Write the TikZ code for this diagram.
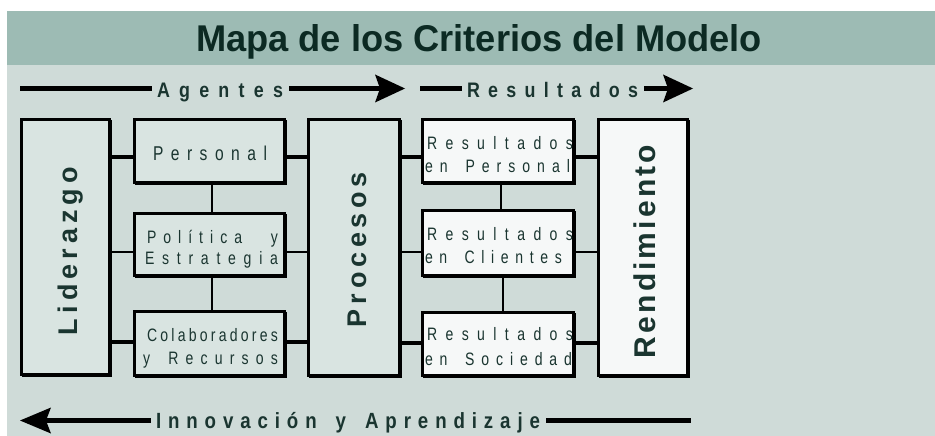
\documentclass[tikz,border=0pt]{standalone}
\usepackage{fontspec}
\setmainfont{Liberation Sans}
\newfontfamily\boxfont[FakeStretch=0.78]{Liberation Sans}
\newfontfamily\narrowfont[FakeStretch=0.85]{Liberation Sans}
\usetikzlibrary{shadows}
\definecolor{bandc}{HTML}{9DBBB4}
\definecolor{mainbg}{HTML}{CFDBD8}
\definecolor{boxgray}{HTML}{D9E4E1}
\definecolor{boxwhite}{HTML}{F6F8F8}
\definecolor{txtc}{HTML}{1A3530}
\definecolor{titlec}{HTML}{0C2A23}
\ExplSyntaxOn
\NewDocumentCommand \spr { m m }
 {
   \makebox[#1][s]{ \tl_map_inline:nn {#2} { ##1 \hfill } \unskip }
 }
\ExplSyntaxOff
\newcommand{\fsz}[1]{\fontsize{#1}{#1}\selectfont}
\tikzset{
  cbox/.style={draw=black, line width=2.5pt, inner sep=0pt,
    copy shadow={shadow xshift=1.5pt, shadow yshift=-1.5pt}},
  graybox/.style={cbox, fill=boxgray},
  whitebox/.style={cbox, fill=boxwhite},
  lab/.style={inner sep=0pt, outer sep=0pt, anchor=base west, text=txtc},
  rlab/.style={lab, rotate=90},
  cthick/.style={draw=black, line width=4pt},
  cthin/.style={draw=black, line width=2pt},
  arrline/.style={draw=black, line width=4.5pt},
}
\begin{document}
\begin{tikzpicture}[x=1pt,y=-1pt]
\useasboundingbox (0,0) rectangle (935,436);
\fill[white] (0,0) rectangle (935,436);
\fill[mainbg] (7,11) rectangle (935,436);
\fill[bandc] (7,11) rectangle (935,65);

% title
\node[lab, text=titlec] (title) at (196,52)
  {\resizebox{566pt}{27pt}{\bfseries Mapa de los Criterios del Modelo}};

% boxes
\node[graybox, minimum width=88pt, minimum height=255pt] (lid) at (65.25,246.75) {};
\node[graybox, minimum width=150pt, minimum height=63pt] (per) at (209.25,150.75) {};
\node[graybox, minimum width=150pt, minimum height=62pt] (pol) at (209.25,244.25) {};
\node[graybox, minimum width=150pt, minimum height=64pt] (col) at (209.25,343.25) {};
\node[graybox, minimum width=91pt, minimum height=256pt] (pro) at (353.75,247.25) {};
\node[whitebox, minimum width=151pt, minimum height=63pt] (rp) at (497.75,150.75) {};
\node[whitebox, minimum width=151pt, minimum height=65pt] (rc) at (497.75,242.75) {};
\node[whitebox, minimum width=151pt, minimum height=63pt] (rs) at (497.75,343.75) {};
\node[whitebox, minimum width=89pt, minimum height=256pt] (ren) at (642.75,247.25) {};

% connectors
\draw[cthick] ([yshift=-6.25pt]per.west -| lid.east) -- ([yshift=-6.25pt]per.west);
\draw[cthick] ([yshift=-6.25pt]per.east) -- ([yshift=-6.25pt]per.east -| pro.west);
\draw[cthin] ([yshift=-7.75pt]pol.west -| lid.east) -- ([yshift=-7.75pt]pol.west);
\draw[cthin] ([yshift=-7.75pt]pol.east) -- ([yshift=-7.75pt]pol.east -| pro.west);
\draw[cthick] ([yshift=1.25pt]col.west -| lid.east) -- ([yshift=1.25pt]col.west);
\draw[cthick] ([yshift=1.25pt]col.east) -- ([yshift=1.25pt]col.east -| pro.west);
\draw[cthin] ([xshift=3pt]per.south) -- ([xshift=3pt]pol.north);
\draw[cthin] ([xshift=3pt]pol.south) -- ([xshift=3pt]col.north);
\draw[cthick] ([yshift=-6.25pt]rp.west -| pro.east) -- ([yshift=-6.25pt]rp.west);
\draw[cthick] ([yshift=-6.25pt]rp.east) -- ([yshift=-6.25pt]rp.east -| ren.west);
\draw[cthin] ([yshift=-9.25pt]rc.west -| pro.east) -- ([yshift=-9.25pt]rc.west);
\draw[cthin] ([yshift=-9.25pt]rc.east) -- ([yshift=-9.25pt]rc.east -| ren.west);
\draw[cthick] ([yshift=0.75pt]rs.west -| pro.east) -- ([yshift=0.75pt]rs.west);
\draw[cthick] ([yshift=0.75pt]rs.east) -- ([yshift=0.75pt]rs.east -| ren.west);
\draw[cthin] ([xshift=3pt]rp.south) -- ([xshift=3pt]rc.north);
\draw[cthin] ([xshift=5pt]rc.south) -- ([xshift=5pt]rs.north);

% box texts
\node[lab] (tper) at (153,160) {\boxfont\fsz{20}\spr{114pt}{Personal}};
\node[lab] (tpol1) at (147,243) {\boxfont\fsz{18}\spr{131pt}{Política~~y}};
\node[lab] (tpol2) at (145,264) {\boxfont\fsz{18}\spr{133pt}{Estrategia}};
\node[lab] (tcol1) at (147,341) {\boxfont\fsz{18}\spr{131pt}{Colaboradores}};
\node[lab] (tcol2) at (143,364) {\boxfont\fsz{18}\spr{135pt}{y~Recursos}};
\node[lab] (trp1) at (427,149) {\boxfont\fsz{18}\spr{146pt}{Resultados}};
\node[lab] (trp2) at (425,172) {\boxfont\fsz{18}\spr{145pt}{en~Personal}};
\node[lab] (trc1) at (427,240) {\boxfont\fsz{18}\spr{146pt}{Resultados}};
\node[lab] (trc2) at (425,263) {\boxfont\fsz{18}\spr{137pt}{en~Clientes}};
\node[lab] (trs1) at (427,340) {\boxfont\fsz{18}\spr{146pt}{Resultados}};
\node[lab] (trs2) at (425,365) {\boxfont\fsz{18}\spr{147pt}{en~Sociedad}};

% rotated labels
\node[rlab] (tlid) at (77,335) {\bfseries\fsz{27}\spr{168pt}{Liderazgo}};
\node[rlab] (tpro) at (366,327) {\bfseries\fsz{27}\spr{155pt}{Procesos}};
\node[rlab] (tren) at (655,358) {\bfseries\fsz{30}\spr{213pt}{Rendimiento}};

% arrow labels
\node[lab] (tag) at (157,97) {\narrowfont\bfseries\fsz{21}\spr{126pt}{Agentes}};
\node[lab] (tres) at (467,97) {\narrowfont\bfseries\fsz{21}\spr{171pt}{Resultados}};
\node[lab] (tinn) at (156,428) {\narrowfont\bfseries\fsz{22}\spr{384pt}{Innovación~y~Aprendizaje}};

\coordinate (agS) at (20,88.5);
\coordinate (agT) at (405,88.5);
\coordinate (reS) at (420,88.5);
\coordinate (reT) at (693,88.5);
\coordinate (inT) at (20,420.5);
\coordinate (inE) at (691,420.5);

\draw[arrline] (agS) -- ([xshift=-5pt]agS -| tag.west);
\draw[arrline] ([xshift=6pt]agS -| tag.east) -- ([xshift=-20pt]agT);
\fill (agT) -- ++(-30,-14) -- ++(5,14) -- ++(-5,14) -- cycle;
\draw[arrline] (reS) -- ([xshift=-5pt]reS -| tres.west);
\draw[arrline] ([xshift=6pt]reS -| tres.east) -- ([xshift=-20pt]reT);
\fill (reT) -- ++(-30,-14) -- ++(5,14) -- ++(-5,14) -- cycle;
\draw[arrline] ([xshift=20pt]inT) -- ([xshift=-5pt]inT -| tinn.west);
\draw[arrline] ([xshift=6pt]inE -| tinn.east) -- (inE);
\fill (inT) -- ++(31,-13) -- ++(-5,13) -- ++(5,13) -- cycle;
\end{tikzpicture}
\end{document}
